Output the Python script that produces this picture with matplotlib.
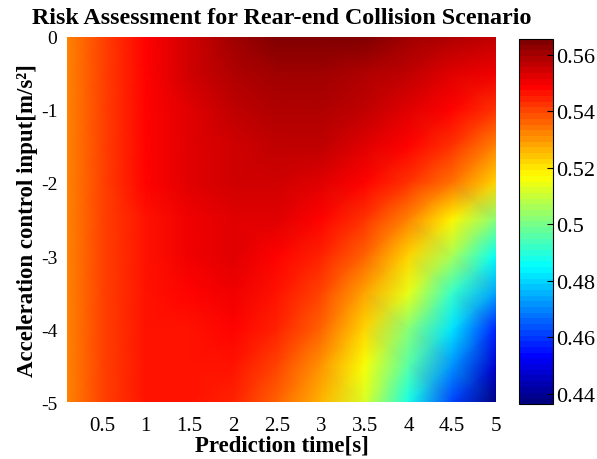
import numpy as np
import matplotlib
matplotlib.use('Agg')
import matplotlib.pyplot as plt
from matplotlib.colors import LinearSegmentedColormap

# Оси сетки (время прогноза, управляющее ускорение)
pred_time = [0.1, 0.5, 1.0, 1.5, 2.0, 2.5, 3.0, 3.5, 4.0, 4.5, 5.0]
accel = [0.0, -0.5, -1.0, -1.5, -2.0, -2.5, -3.0, -3.5, -4.0, -4.5, -5.0]

# Оценка риска (строки = accel, столбцы = pred_time)
risk_0_0 = [0.533, 0.541, 0.549, 0.555, 0.561, 0.564, 0.5655, 0.565, 0.561, 0.558, 0.556]
risk_0_5 = [0.533, 0.541, 0.549, 0.554, 0.558, 0.561, 0.561, 0.559, 0.557, 0.553, 0.550]
risk_1_0 = [0.533, 0.541, 0.549, 0.553, 0.556, 0.559, 0.558, 0.556, 0.552, 0.548, 0.543]
risk_1_5 = [0.533, 0.541, 0.548, 0.552, 0.555, 0.557, 0.556, 0.552, 0.549, 0.542, 0.532]
risk_2_0 = [0.533, 0.541, 0.548, 0.552, 0.554, 0.555, 0.553, 0.548, 0.542, 0.534, 0.522]
risk_2_5 = [0.533, 0.541, 0.547, 0.551, 0.553, 0.552, 0.548, 0.542, 0.532, 0.519, 0.503]
risk_3_0 = [0.533, 0.541, 0.547, 0.550, 0.552, 0.549, 0.544, 0.536, 0.522, 0.506, 0.485]
risk_3_5 = [0.533, 0.541, 0.547, 0.549, 0.550, 0.546, 0.540, 0.529, 0.514, 0.492, 0.474]
risk_4_0 = [0.533, 0.541, 0.547, 0.547, 0.548, 0.544, 0.536, 0.522, 0.503, 0.481, 0.457]
risk_4_5 = [0.533, 0.541, 0.547, 0.547, 0.546, 0.541, 0.531, 0.517, 0.495, 0.471, 0.448]
risk_5_0 = [0.533, 0.541, 0.546, 0.546, 0.544, 0.536, 0.527, 0.512, 0.487, 0.462, 0.438]

x_ticks = [0.5, 1, 1.5, 2, 2.5, 3, 3.5, 4, 4.5, 5]
x_tick_labels = ['0.5', '1', '1.5', '2', '2.5', '3', '3.5', '4', '4.5', '5']
y_ticks = [0, -1, -2, -3, -4, -5]
y_tick_labels = ['0', '-1', '-2', '-3', '-4', '-5']
cb_ticks = [0.44, 0.46, 0.48, 0.50, 0.52, 0.54, 0.56]
cb_tick_labels = ['0.44', '0.46', '0.48', '0.5', '0.52', '0.54', '0.56']

plt.rcParams['font.family'] = 'Liberation Serif'

# jet как в MATLAB (опорные точки 1/8, 3/8, 5/8, 7/8), 64 уровня
matlab_jet = LinearSegmentedColormap.from_list(
    'matlab_jet',
    [(0.0, (0, 0, 0.5)), (0.125, (0, 0, 1)), (0.375, (0, 1, 1)),
     (0.625, (1, 1, 0)), (0.875, (1, 0, 0)), (1.0, (0.5, 0, 0))],
    N=64)

risk = np.array([risk_0_0, risk_0_5, risk_1_0, risk_1_5, risk_2_0, risk_2_5,
                 risk_3_0, risk_3_5, risk_4_0, risk_4_5, risk_5_0])
X, Y = np.meshgrid(pred_time, accel)

fig = plt.figure(figsize=(5.97, 4.60), dpi=100)
ax = fig.add_axes([0.1122, 0.1239, 0.7186, 0.7935])
cax = fig.add_axes([0.8693, 0.1196, 0.057, 0.7935])

mesh = ax.pcolormesh(X, Y, risk, shading='gouraud', cmap=matlab_jet,
                     vmin=0.4365, vmax=0.5655)
ax.set_xlim(0.1, 5)
ax.set_ylim(-5, 0)
for s in ax.spines.values():
    s.set_visible(False)
ax.set_xticks(x_ticks)
ax.set_xticklabels(x_tick_labels)
ax.set_yticks(y_ticks)
ax.set_yticklabels(y_tick_labels)
ax.tick_params(axis='x', length=0, labelsize=15, pad=10)
ax.tick_params(axis='y', length=0, labelsize=14, pad=7)

ax.set_title('Risk Assessment for Rear-end Collision Scenario',
             fontsize=17.3, fontweight='bold', pad=10)
ax.set_xlabel('Prediction time[s]', fontsize=16.5, fontweight='bold', labelpad=0)
ax.set_ylabel('Acceleration control input[m/s²]', fontsize=16.5,
              fontweight='bold', labelpad=2)

cb = fig.colorbar(mesh, cax=cax)
cb.set_ticks(cb_ticks)
cb.set_ticklabels(cb_tick_labels)
cb.ax.tick_params(direction='in', length=4, labelsize=16, pad=2)
cb.outline.set_linewidth(0.8)

fig.savefig('out.png', dpi=100)
